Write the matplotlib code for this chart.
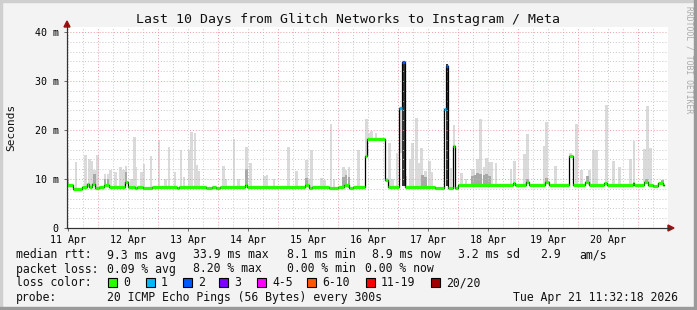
import numpy as np
import matplotlib
matplotlib.use('Agg')
from matplotlib import pyplot as plt
from matplotlib.patches import Rectangle, Polygon

W, H = 697, 310

# ---- data (time in days of April, values in ms) ----
t_start, t_end = 11.48, 21.50
data_end = 21.44

# median rtt as steps: start time, value, loss colour index
med_t = [11.48, 11.58, 11.73, 11.81, 11.85, 11.90, 11.95, 12.02, 12.10, 12.18,
         12.44, 12.49, 12.61, 12.65, 12.75, 12.90, 13.32, 13.35, 13.79, 13.90,
         13.96, 14.03, 14.45, 14.48, 15.45, 15.52, 15.57, 15.85, 16.00, 16.10,
         16.18, 16.24, 16.44, 16.49, 16.78, 16.83, 17.02, 17.07, 17.11, 17.62,
         17.76, 17.80, 17.84, 17.91, 17.95, 18.00, 18.91, 18.95, 19.14, 19.19,
         19.45, 19.52, 19.85, 19.91, 20.11, 20.18, 20.44, 20.49, 20.91, 20.94,
         21.10, 21.17, 21.25, 21.34, 21.42]
med_v = [8.8, 8.0, 8.4, 8.9, 8.4, 8.9, 8.1, 8.4, 8.8, 8.4,
         9.4, 8.4, 8.1, 8.4, 8.1, 8.4, 8.1, 8.4, 8.1, 8.4,
         8.1, 8.4, 8.8, 8.4, 8.8, 8.1, 8.4, 8.1, 8.4, 8.8,
         8.1, 8.4, 14.6, 18.2, 9.8, 8.4, 24.5, 33.9, 8.4, 8.1,
         24.2, 33.0, 8.1, 16.7, 8.2, 8.85, 9.1, 8.85, 9.4, 8.85,
         9.3, 8.85, 14.6, 8.85, 9.4, 8.85, 9.1, 8.85, 9.1, 8.85,
         9.3, 8.85, 8.6, 9.1, 8.85]
med_loss = [0] * len(med_t)
med_loss[36] = 1
med_loss[37] = 2
med_loss[40] = 1
med_loss[41] = 2

# smoke (max spread of the 20 pings)
smoke_t = [11.47, 11.61, 11.77, 11.83, 11.87, 11.92, 11.97, 12.09, 12.14, 12.18,
           12.27, 12.35, 12.40, 12.44, 12.53, 12.58, 12.61, 12.70, 12.74, 12.86,
           12.99, 13.10, 13.16, 13.26, 13.36, 13.41, 13.49, 13.53, 13.59, 13.62,
           13.66, 14.07, 14.11, 14.24, 14.32, 14.45, 14.52, 14.75, 14.79, 14.91,
           15.15, 15.28, 15.45, 15.49, 15.53, 15.70, 15.75, 15.86, 15.91, 16.07,
           16.11, 16.16, 16.32, 16.45, 16.49, 16.53, 16.61, 16.78, 16.84, 16.89,
           16.96, 17.02, 17.11, 17.19, 17.22, 17.28, 17.34, 17.37, 17.44, 17.50,
           17.54, 17.86, 17.91, 18.03, 18.11, 18.22, 18.28, 18.24, 18.30, 18.35,
           18.41, 18.45, 18.50, 18.54, 18.61, 18.86, 18.92, 19.09, 19.14, 19.41,
           19.45, 19.60, 19.85, 19.95, 20.03, 20.17, 20.24, 20.28, 20.45, 20.57,
           20.67, 20.85, 20.91, 21.09, 21.14, 21.19]
smoke_top = [13.7, 13.5, 14.9, 14.1, 13.7, 11.8, 14.8, 11.0, 11.0, 11.8,
             11.5, 12.4, 11.9, 12.7, 9.9, 18.6, 12.5, 11.4, 13.1, 14.7,
             18.0, 9.9, 16.5, 11.5, 16.0, 10.5, 15.9, 19.6, 19.3, 12.9,
             11.6, 12.7, 9.9, 18.1, 10.0, 16.6, 13.3, 10.6, 10.8, 9.9,
             16.5, 11.6, 13.9, 9.9, 16.0, 10.3, 9.7, 21.3, 9.9, 12.5,
             11.8, 12.5, 15.9, 22.2, 19.4, 19.7, 19.4, 10.3, 17.4, 9.9,
             15.4, 15.4, 10.6, 14.0, 17.3, 22.4, 13.2, 16.3, 11.7, 13.7,
             11.4, 12.2, 21.1, 11.3, 9.9, 12.1, 10.3, 12.0, 14.0, 22.2,
             12.4, 14.2, 13.5, 13.5, 13.3, 12.0, 13.7, 15.1, 19.2, 16.7,
             21.6, 12.7, 15.4, 21.3, 11.9, 11.9, 16.0, 15.9, 25.1, 13.7,
             12.5, 14.1, 17.8, 16.1, 24.9, 16.3]

# denser smoke close to the median
dense_t = [11.47, 11.92, 12.09, 12.14, 12.44, 14.45, 15.45, 16.07, 16.11, 16.16,
           17.39, 17.44, 18.22, 18.26, 18.30, 18.35, 18.41, 18.45, 18.50, 19.14,
           19.45, 20.13, 21.12, 21.38]
dense_top = [10.2, 11.0, 10.0, 10.0, 11.5, 12.0, 10.2, 10.5, 10.8, 10.5,
             10.8, 10.5, 10.6, 10.8, 11.2, 11.0, 10.8, 11.0, 10.6, 9.9,
             10.3, 10.6, 10.0, 9.8]

# dark smoke under the two big spikes
dark_t = [17.07, 17.80]
dark_top = [33.9, 33.5]

loss_colors = ['#26ff00', '#00b8ff', '#0059ff', '#7e00ff', '#ff00ff',
               '#ff5500', '#ff0000', '#a10000']
loss_labels = ['0', '1', '2', '3', '4-5', '6-10', '11-19', '20/20']

days = list(range(11, 21))
day_labels = ['%d Apr' % d for d in days]


def fx(x):
    return x / W


def fy(y):
    return 1 - y / H


def median_at(t):
    i = np.searchsorted(med_t, t, side='right') - 1
    return med_v[max(i, 0)]


mono = 'DejaVu Sans Mono'

fig = plt.figure(figsize=(W / 100, H / 100), dpi=100)
fig.patch.set_facecolor('#f3f3f3')

ax = fig.add_axes([fx(67), fy(228), (668 - 67) / W, (228 - 27) / H])
ax.set_facecolor('white')
ax.set_xlim(t_start, t_end)
ax.set_ylim(0, 41.02)

# smoke
bw = 0.045
for t, top in zip(smoke_t, smoke_top):
    b = median_at(t + bw / 2)
    ax.bar(t, top - b, bottom=b, width=bw, align='edge', color='#dadada', lw=0, zorder=1)
for t, top in zip(dense_t, dense_top):
    b = median_at(t + bw / 2)
    ax.bar(t, top - b, bottom=b, width=bw, align='edge', color='#a8a8a8', lw=0, zorder=1.5)
for t, top in zip(dark_t, dark_top):
    ax.bar(t, top - 8.5, bottom=8.5, width=0.04, align='edge', color='#333333', lw=0, zorder=1.6)

# grid
for y in np.arange(2, 41, 2):
    if y % 10:
        ax.axhline(y, color='#c8c8c8', lw=0.7, ls=(0, (1, 2)), zorder=2)
for x in np.arange(11.5, 21.5, 0.25):
    if x % 1:
        ax.axvline(x, color='#c8c8c8', lw=0.7, ls=(0, (1, 2)), zorder=2)
for y in [10, 20, 30, 40]:
    ax.axhline(y, color='#e8a0a0', lw=0.7, ls=(0, (1, 2)), zorder=2.1)
for x in range(12, 22):
    ax.axvline(x, color='#e8a0a0', lw=0.7, ls=(0, (1, 2)), zorder=2.1)

# median line
st = med_t + [data_end]
sv = med_v + [med_v[-1]]
ax.step(st, sv, where='post', color='black', lw=0.9, zorder=3)
for i in range(len(med_t)):
    ax.hlines(med_v[i], st[i], st[i + 1], colors=loss_colors[med_loss[i]],
              lw=2.3, zorder=4, capstyle='butt')

# axes look
for s in ['top', 'right']:
    ax.spines[s].set_visible(False)
ax.spines['left'].set_color('#333333')
ax.spines['bottom'].set_color('#333333')
ax.set_yticks([0, 10, 20, 30, 40])
ax.set_yticklabels(['0', '10 m', '20 m', '30 m', '40 m'], family=mono, fontsize=7.2)
ax.set_xticks([d + 0.5 for d in days])
ax.set_xticklabels(day_labels, family=mono, fontsize=7.2)
ax.tick_params(axis='both', length=2, width=0.6, color='#555555', pad=3)
ax.tick_params(axis='y', pad=4)

# axis extensions and arrows
fig.add_artist(plt.Line2D([fx(67), fx(67)], [fy(228), fy(24)], color='#333333', lw=0.8))
fig.add_artist(plt.Line2D([fx(67), fx(670)], [fy(228), fy(228)], color='#333333', lw=0.8))
fig.add_artist(Polygon([[fx(64), fy(27)], [fx(70), fy(27)], [fx(67), fy(21)]],
                       closed=True, transform=fig.transFigure, color='#a01010'))
fig.add_artist(Polygon([[fx(668), fy(225)], [fx(668), fy(231)], [fx(674), fy(228)]],
                       closed=True, transform=fig.transFigure, color='#a01010'))

# titles
fig.text(fx(348), fy(19), 'Last 10 Days from Glitch Networks to Instagram / Meta',
         family=mono, fontsize=9.5, ha='center', va='center', color='#111111')
fig.text(fx(11), fy(127), 'Seconds', family=mono, fontsize=8, rotation=90,
         ha='center', va='center', color='#111111')
fig.text(fx(689), fy(60), 'RRDTOOL / TOBI OETIKER', family=mono, fontsize=5.8,
         rotation=270, ha='center', va='center', color='#aaaaaa')

# legend rows
fs = 8.3
row1 = [(16, 'median rtt:'), (107, '9.3 ms avg'), (193, '33.9 ms max'), (287, '8.1 ms min'),
        (372, '8.9 ms now'), (458, '3.2 ms sd'), (540, '2.9'), (579, 'am/s')]
row2 = [(16, 'packet loss:'), (107, '0.09 % avg'), (193, '8.20 % max'),
        (287, '0.00 % min'), (365, '0.00 % now')]
for x, s in row1:
    fig.text(fx(x), fy(255), s, family=mono, fontsize=fs, va='center', color='#111111')
for x, s in row2:
    fig.text(fx(x), fy(269), s, family=mono, fontsize=fs, va='center', color='#111111')

fig.text(fx(16), fy(283), 'loss color:', family=mono, fontsize=fs, va='center', color='#111111')
box_x = [108, 146, 183, 219, 257, 307, 366, 431]
for bx, c, lab in zip(box_x, loss_colors, loss_labels):
    fig.add_artist(Rectangle((fx(bx), fy(287)), 9 / W, 9 / H, transform=fig.transFigure,
                             facecolor=c, edgecolor='black', lw=0.8))
    fig.text(fx(bx + 15), fy(283), lab, family=mono, fontsize=fs, va='center', color='#111111')

fig.text(fx(16), fy(297), 'probe:', family=mono, fontsize=fs, va='center', color='#111111')
fig.text(fx(107), fy(297), '20 ICMP Echo Pings (56 Bytes) every 300s', family=mono,
         fontsize=fs, va='center', color='#111111')
fig.text(fx(513), fy(297), 'Tue Apr 21 11:32:18 2026', family=mono, fontsize=fs,
         va='center', color='#111111')

# frame
fig.add_artist(Rectangle((0, 1 - 2 / H), 1, 2 / H, transform=fig.transFigure, color='#cfcfcf'))
fig.add_artist(Rectangle((0, 0), 2 / W, 1, transform=fig.transFigure, color='#cfcfcf'))
fig.add_artist(Rectangle((0, 0), 1, 3 / H, transform=fig.transFigure, color='#9a9a9a'))
fig.add_artist(Rectangle((1 - 3 / W, 0), 3 / W, 1, transform=fig.transFigure, color='#9a9a9a'))

fig.savefig('out.png', dpi=100, facecolor=fig.get_facecolor())
